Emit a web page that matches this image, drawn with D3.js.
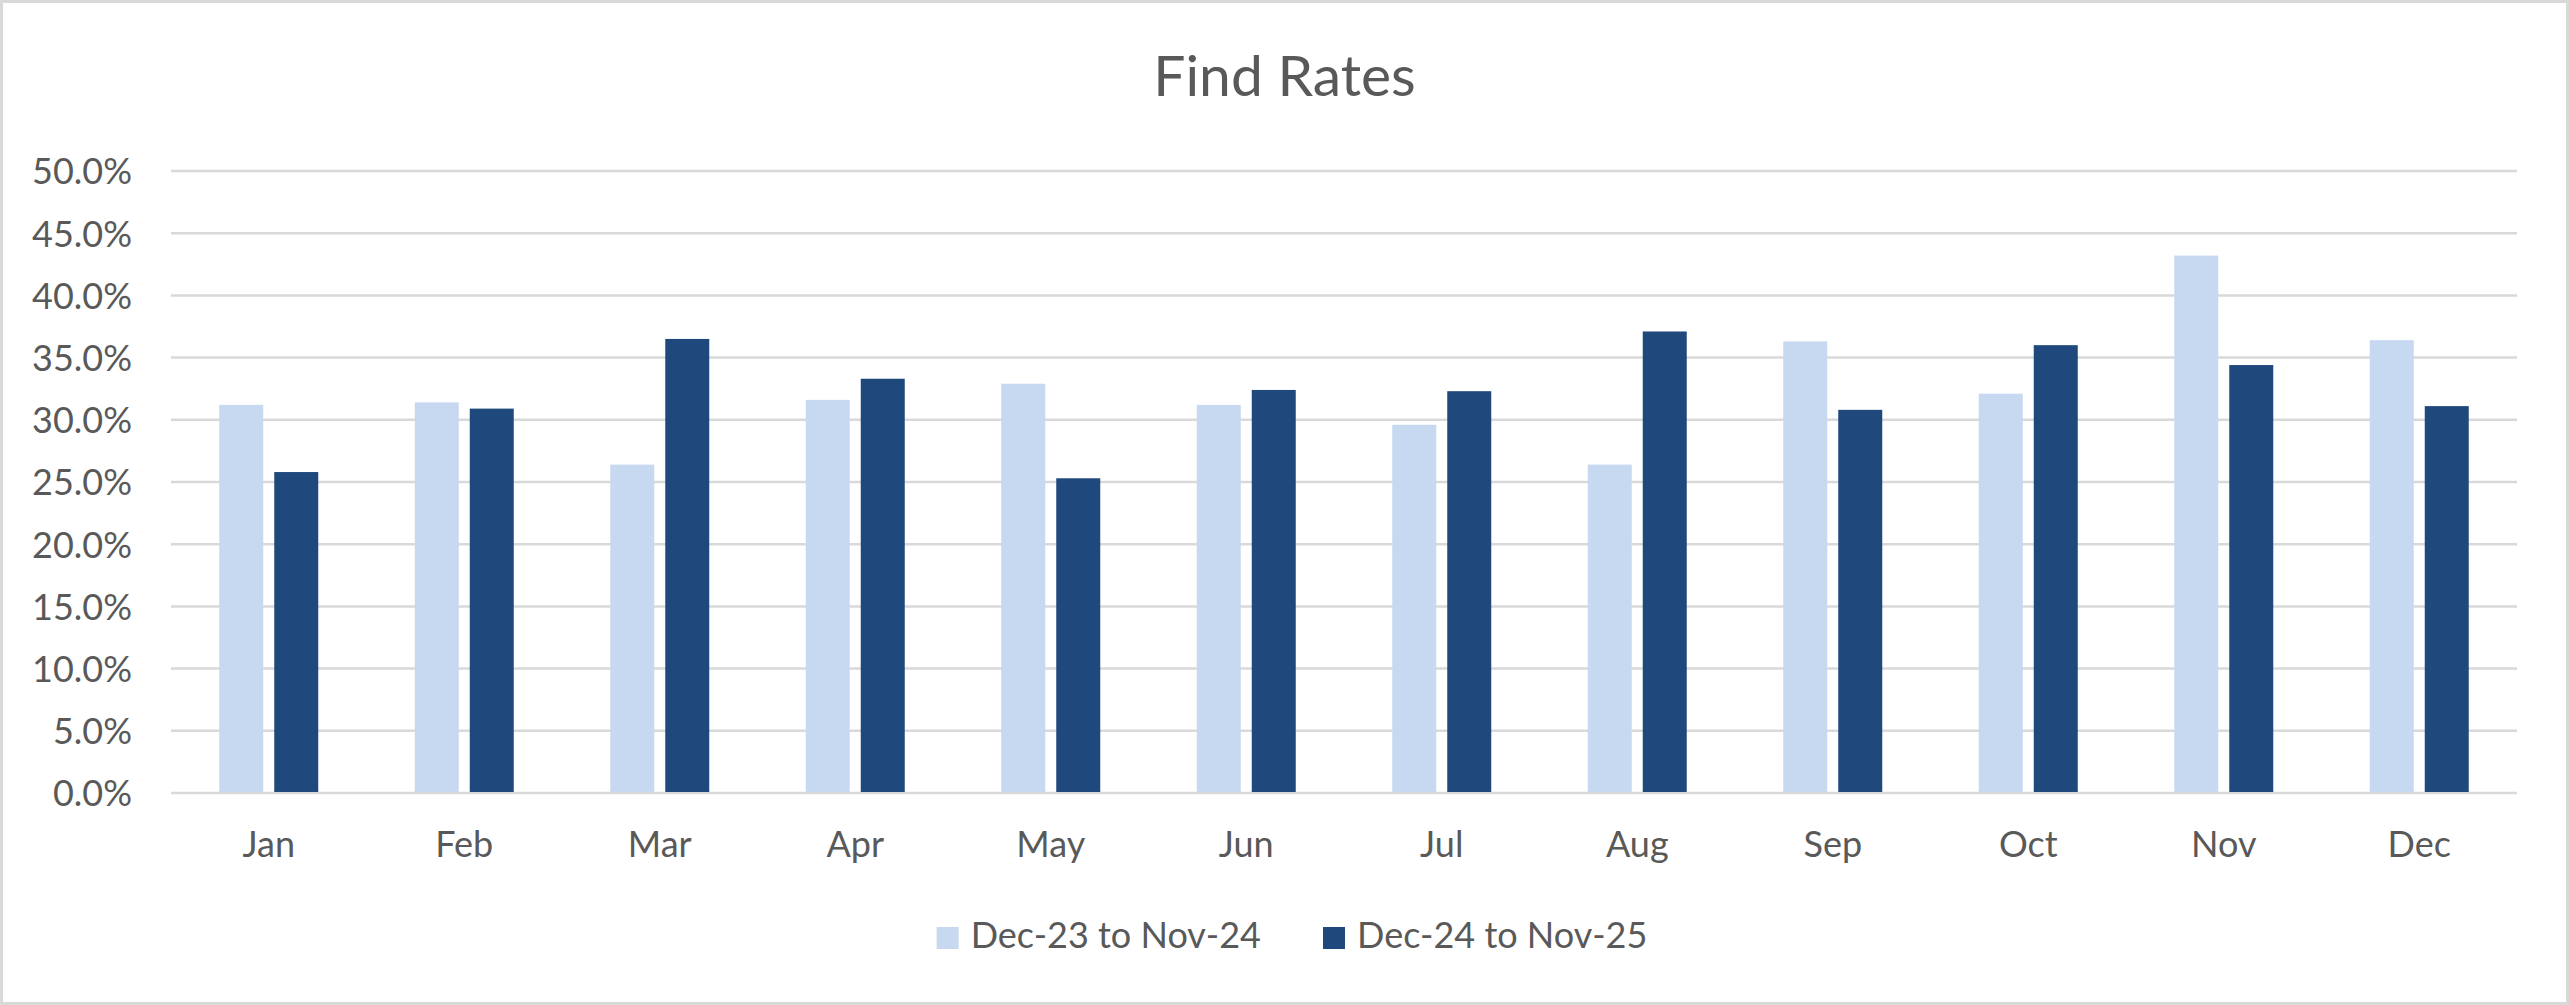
<!DOCTYPE html>
<html>
<head>
<meta charset="utf-8">
<script src="https://cdn.jsdelivr.net/npm/d3@7"></script>
<style>
  html, body { margin: 0; padding: 0; background: #fff; }
  svg { display: block; }
  text { font-family: "Lato", "Open Sans", sans-serif; fill: #595959; }
</style>
</head>
<body>
<svg id="chart" width="2569" height="1005"></svg>
<script>
// ---- data ----
const title = "Find Rates";
const months = ["Jan","Feb","Mar","Apr","May","Jun","Jul","Aug","Sep","Oct","Nov","Dec"];
const seriesNames = ["Dec-23 to Nov-24", "Dec-24 to Nov-25"];
const series1 = [31.2, 31.4, 26.4, 31.6, 32.9, 31.2, 29.6, 26.4, 36.3, 32.1, 43.2, 36.4];
const series2 = [25.8, 30.9, 36.5, 33.3, 25.3, 32.4, 32.3, 37.1, 30.8, 36.0, 34.4, 31.1];
const yTicks = [0, 5, 10, 15, 20, 25, 30, 35, 40, 45, 50];
const colors = ["#C6D9F0", "#1F497D"];

// ---- layout ----
const W = 2569, H = 1005;
const plot = { left: 171, right: 2517, top: 171, bottom: 793 };
const svg = d3.select("#chart");

// border
svg.append("rect")
  .attr("x", 1.5).attr("y", 1.5)
  .attr("width", W - 3).attr("height", H - 3)
  .attr("fill", "#fff").attr("stroke", "#D9D9D9").attr("stroke-width", 3);

// title
svg.append("text")
  .attr("x", W / 2).attr("y", 96)
  .attr("text-anchor", "middle")
  .style("font-size", "57px")
  .text(title);

// scales
const x0 = d3.scaleBand().domain(months).range([plot.left, plot.right]).paddingInner(0).paddingOuter(0);
const groupW = 99;
const x1 = d3.scaleBand().domain([0, 1]).range([0, groupW]).paddingInner(0.2).paddingOuter(0);
const y = d3.scaleLinear().domain([0, 50]).range([plot.bottom, plot.top]);

// gridlines
const grid = svg.append("g");
grid.selectAll("line").data(yTicks).join("line")
  .attr("x1", plot.left).attr("x2", plot.right)
  .attr("y1", d => y(d)).attr("y2", d => y(d))
  .attr("stroke", "#D9D9D9").attr("stroke-width", 2.5);

// y axis labels
const yAxis = d3.axisLeft(y).tickValues(yTicks).tickSize(0).tickPadding(0)
  .tickFormat(d => d3.format(".1f")(d) + "%");
const yg = svg.append("g").attr("transform", `translate(132,0)`).call(yAxis);
yg.select(".domain").remove();
yg.selectAll("text")
  .attr("x", 0).attr("dy", "0.36em")
  .style("font-size", "36px").style("font-family", "Lato, 'Open Sans', sans-serif")
  .attr("fill", "#595959");

// bars
const data = months.map((m, i) => ({ m, vals: [series1[i], series2[i]] }));
const groups = svg.append("g").selectAll("g").data(data).join("g")
  .attr("transform", d => `translate(${x0(d.m) + x0.bandwidth() / 2 - groupW / 2},0)`);
groups.selectAll("rect").data(d => d.vals.map((v, k) => ({ v, k }))).join("rect")
  .attr("x", d => x1(d.k))
  .attr("width", x1.bandwidth())
  .attr("y", d => y(d.v))
  .attr("height", d => y(0) - y(d.v) - 1)
  .attr("fill", d => colors[d.k]);

// x axis labels
const xAxis = d3.axisBottom(x0).tickSize(0).tickPadding(0);
const xg = svg.append("g").attr("transform", `translate(0,${plot.bottom})`).call(xAxis);
xg.select(".domain").remove();
xg.selectAll("text")
  .attr("y", 64).attr("dy", 0)
  .style("font-size", "36px").style("font-family", "Lato, 'Open Sans', sans-serif")
  .attr("fill", "#595959");

// legend
const legend = svg.append("g");
const items = legend.selectAll("g").data(seriesNames).join("g");
items.append("rect").attr("width", 22).attr("height", 22).attr("y", 927)
  .attr("fill", (d, i) => colors[i]);
items.append("text").attr("y", 948).style("font-size", "36px").text(d => d);
// position items centered
let widths = [];
items.select("text").each(function () { widths.push(this.getComputedTextLength()); });
const sq = 22, gapText = 12, gapItem = 62;
const total = widths.reduce((a, w) => a + sq + gapText + w, 0) + gapItem * (widths.length - 1);
let cx = 1292 - total / 2;
items.each(function (d, i) {
  const g = d3.select(this);
  g.select("rect").attr("x", cx);
  g.select("text").attr("x", cx + sq + gapText);
  cx += sq + gapText + widths[i] + gapItem;
});
</script>
</body>
</html>
